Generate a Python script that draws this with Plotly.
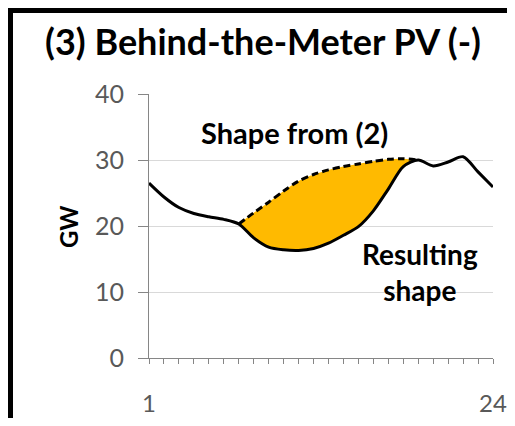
import plotly.graph_objects as go

# hours of the day
hours = list(range(1, 25))

# net load after behind-the-meter PV (GW)
resulting = [26.5, 24.4, 22.8, 21.9, 21.4, 21.0, 20.3, 18.2, 16.8, 16.4, 16.3, 16.6,
             17.4, 18.6, 19.9, 22.3, 25.6, 29.0, 30.0, 29.1, 29.7, 30.5, 28.2, 25.9]

# shape carried over from step (2), only where PV changes it
shape_hours = list(range(7, 20))
shape_from_2 = [20.3, 22.0, 23.6, 25.3, 26.8, 27.8, 28.5, 29.0, 29.4, 29.8, 30.1, 30.2, 30.0]
resulting_pv = resulting[6:19]

tick_text = ['1'] + [''] * 22 + ['24']

FONT = 'Lato'
AXIS_GREY = '#868686'
LABEL_GREY = '#595959'
FILL = '#FFBA00'
SMOOTH = 0.8

# page body keeps an 8px margin, so the figure is sized to stay inside the window
W, H = 499, 410
L, T, R, B = 141, 86, 14, 60
PW, PH = W - L - R, H - T - B


def px_x(px):
    return (px - L) / PW


def px_y(py):
    return (H - B - py) / PH


fig = go.Figure()

# orange area between the two shapes
fig.add_trace(go.Scatter(
    x=shape_hours, y=resulting_pv, mode='lines',
    line=dict(width=0, shape='spline', smoothing=SMOOTH),
    showlegend=False, hoverinfo='skip'
))
fig.add_trace(go.Scatter(
    x=shape_hours, y=shape_from_2, mode='lines',
    line=dict(width=0, shape='spline', smoothing=SMOOTH),
    fill='tonexty', fillcolor=FILL,
    showlegend=False, hoverinfo='skip'
))

# dashed shape from (2)
fig.add_trace(go.Scatter(
    x=shape_hours, y=shape_from_2, mode='lines', name='Shape from (2)',
    line=dict(color='black', width=3, dash='7px,4px', shape='spline', smoothing=SMOOTH),
    showlegend=False
))

# resulting shape
fig.add_trace(go.Scatter(
    x=hours, y=resulting, mode='lines', name='Resulting shape',
    line=dict(color='black', width=3, shape='spline', smoothing=SMOOTH),
    showlegend=False
))

fig.update_layout(
    width=W, height=H,
    margin=dict(l=L, r=R, t=T, b=B),
    paper_bgcolor='white', plot_bgcolor='white',
    font=dict(family=FONT, color=LABEL_GREY, size=25),
    title=dict(
        text='<b>(3) Behind-the-Meter PV (-)</b>',
        font=dict(family=FONT, size=36, color='black'),
        xref='container', x=255 / W, xanchor='center',
        yref='container', y=1 - 34 / H, yanchor='middle'
    ),
    xaxis=dict(
        range=[1, 24], tickvals=hours, ticktext=tick_text,
        ticks='outside', ticklen=5, tickcolor=AXIS_GREY,
        tickfont=dict(size=24), automargin=False,
        showline=True, linecolor=AXIS_GREY, linewidth=1,
        showgrid=False, zeroline=False, ticklabelstandoff=19,
        ticklabeloverflow='allow'
    ),
    yaxis=dict(
        range=[0, 40], dtick=10, automargin=False,
        ticks='outside', ticklen=10, tickcolor=AXIS_GREY,
        showline=True, linecolor=AXIS_GREY, linewidth=1,
        gridcolor='#D9D9D9', gridwidth=1, zeroline=False,
        ticklabelstandoff=9
    ),
    annotations=[
        dict(text='<b>GW</b>', xref='paper', yref='paper',
             x=px_x(60), y=px_y(219), textangle=-90,
             showarrow=False, font=dict(family=FONT, size=24, color='black'),
             xanchor='center', yanchor='middle'),
        dict(text='<b>Shape from (2)</b>', x=10.7, y=34.2, showarrow=False,
             font=dict(family=FONT, size=29, color='black'),
             xanchor='center', yanchor='middle'),
        dict(text='<b>Resulting<br>shape</b>', x=19.1, y=13.0, showarrow=False,
             font=dict(family=FONT, size=28, color='black'),
             xanchor='center', yanchor='middle'),
    ],
    shapes=[
        # thick black frame, top and left edges
        dict(type='line', xref='paper', yref='paper',
             x0=px_x(-10), x1=px_x(W + 10), y0=px_y(2), y1=px_y(2),
             line=dict(color='black', width=6), layer='above'),
        dict(type='line', xref='paper', yref='paper',
             x0=px_x(2), x1=px_x(2), y0=px_y(-10), y1=px_y(H + 10),
             line=dict(color='black', width=6), layer='above'),
    ]
)

fig.write_html("out.html")
